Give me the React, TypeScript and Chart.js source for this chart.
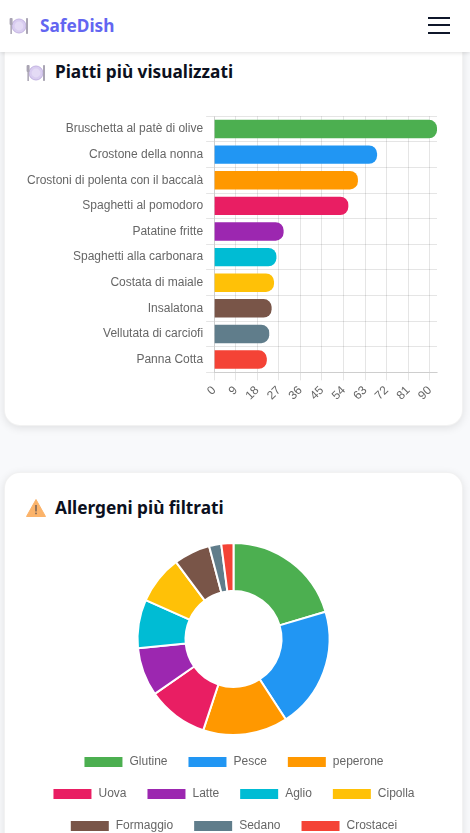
import { useEffect, useRef } from "react"
import Chart from "chart.js/auto"

const dishLabels = [
  "Bruschetta al patè di olive",
  "Crostone della nonna",
  "Crostoni di polenta con il baccalà",
  "Spaghetti al pomodoro",
  "Patatine fritte",
  "Spaghetti alla carbonara",
  "Costata di maiale",
  "Insalatona",
  "Vellutata di carciofi",
  "Panna Cotta",
]
const dishViews = [93, 68, 60, 56, 29, 26, 25, 24, 23, 22]

const allergenLabels = ["Glutine", "Pesce", "peperone", "Uova", "Latte", "Aglio", "Cipolla", "Formaggio", "Sedano", "Crostacei"]
const allergenCounts = [10, 10, 7, 5, 4, 4, 4, 3, 1, 1]

const palette = ["#4CAF50", "#2196F3", "#FF9800", "#E91E63", "#9C27B0", "#00BCD4", "#FFC107", "#795548", "#607D8B", "#F44336"]

const CHART_FONT = "'Liberation Sans', Arial, sans-serif"
const TITLE_FONT = "'Noto Sans', sans-serif"

function PlateIcon({ size }: { size: number }) {
  return (
    <svg width={size} height={size} viewBox="0 0 20 20" style={{ display: "block" }}>
      <circle cx="10" cy="10" r="7" fill="#d9cdf0" stroke="#c3b4e2" />
      <circle cx="10" cy="10" r="4.4" fill="#e4dbf5" />
      <rect x="0.6" y="2" width="3" height="7" rx="1" fill="#a9a4b3" />
      <rect x="1.4" y="8" width="1.5" height="10" fill="#a9a4b3" />
      <rect x="17" y="2" width="2" height="16" rx="0.8" fill="#a9a4b3" />
    </svg>
  )
}

function WarningIcon({ size }: { size: number }) {
  return (
    <svg width={size} height={size} viewBox="0 0 20 20" style={{ display: "block" }}>
      <path d="M10 1.5 L19.5 18.5 L0.5 18.5 Z" fill="#fbb36a" stroke="#fbb36a" strokeLinejoin="round" />
      <rect x="9.3" y="7" width="1.4" height="6.5" fill="#6b5a55" />
      <rect x="9.3" y="14.6" width="1.4" height="1.6" fill="#6b5a55" />
    </svg>
  )
}

export default function App() {
  const barRef = useRef<HTMLCanvasElement>(null)
  const pieRef = useRef<HTMLCanvasElement>(null)

  useEffect(() => {
    document.documentElement.style.overflow = "hidden"
    document.body.style.margin = "0"
    Chart.defaults.font.family = CHART_FONT

    const bar = new Chart(barRef.current!, {
      type: "bar",
      data: {
        labels: dishLabels,
        datasets: [{ data: dishViews, backgroundColor: palette, borderRadius: 8 }],
      },
      options: {
        indexAxis: "y",
        animation: false,
        responsive: false,
        plugins: { legend: { display: false } },
        scales: {
          x: {
            min: 0,
            max: 93,
            ticks: { stepSize: 9, includeBounds: false, autoSkip: false, minRotation: 45, maxRotation: 45 },
          },
        },
      },
    })

    const pie = new Chart(pieRef.current!, {
      type: "doughnut",
      data: {
        labels: allergenLabels,
        datasets: [{ data: allergenCounts, backgroundColor: palette, borderColor: "#fff", borderWidth: 2 }],
      },
      options: {
        animation: false,
        responsive: false,
        cutout: "50%",
        plugins: { legend: { position: "bottom", labels: { padding: 20 } } },
      },
    })

    return () => {
      bar.destroy()
      pie.destroy()
    }
  }, [])

  const card = {
    position: "absolute",
    left: 4,
    width: 459,
    background: "#fff",
    borderRadius: 16,
    border: "1px solid rgba(0,0,0,0.05)",
    boxShadow: "0 2px 8px rgba(0,0,0,0.1)",
    boxSizing: "border-box",
  } as const
  const title = {
    position: "absolute",
    left: 55,
    margin: 0,
    fontFamily: TITLE_FONT,
    fontSize: 17.25,
    fontWeight: 700,
    lineHeight: "24px",
    color: "#0b1020",
    whiteSpace: "nowrap",
  } as const

  return (
    <div style={{ position: "relative", width: 470, height: 833, overflow: "hidden", background: "#f8f9fb" }}>
      <div style={{ ...card, top: -40, height: 466 }} />
      <div style={{ ...card, top: 472, height: 500 }} />

      <div style={{ position: "absolute", left: 0, top: 0, width: 470, height: 52, background: "#fff", boxShadow: "0 1px 4px rgba(0,0,0,0.12)" }}>
        <div style={{ position: "absolute", left: 9, top: 16 }}>
          <PlateIcon size={20} />
        </div>
        <div style={{ position: "absolute", left: 40, top: 14, fontFamily: TITLE_FONT, fontWeight: 700, fontSize: 17.25, lineHeight: "24px", color: "#6366f1" }}>
          SafeDish
        </div>
        <div style={{ position: "absolute", left: 428, top: 16.5, width: 22, height: 2, background: "#0f172a" }} />
        <div style={{ position: "absolute", left: 428, top: 24, width: 22, height: 2, background: "#0f172a" }} />
        <div style={{ position: "absolute", left: 428, top: 31.5, width: 22, height: 2, background: "#0f172a" }} />
      </div>

      <div style={{ position: "absolute", left: 26, top: 63 }}>
        <PlateIcon size={20} />
      </div>
      <h3 style={{ ...title, top: 60 }}>Piatti più visualizzati</h3>

      <div style={{ position: "absolute", left: 26, top: 498 }}>
        <WarningIcon size={20} />
      </div>
      <h3 style={{ ...title, top: 496 }}>Allergeni più filtrati</h3>

      <canvas ref={barRef} width={419} height={300} style={{ position: "absolute", left: 24, top: 106 }} />
      <canvas ref={pieRef} width={419} height={300} style={{ position: "absolute", left: 24, top: 542 }} />
    </div>
  )
}
